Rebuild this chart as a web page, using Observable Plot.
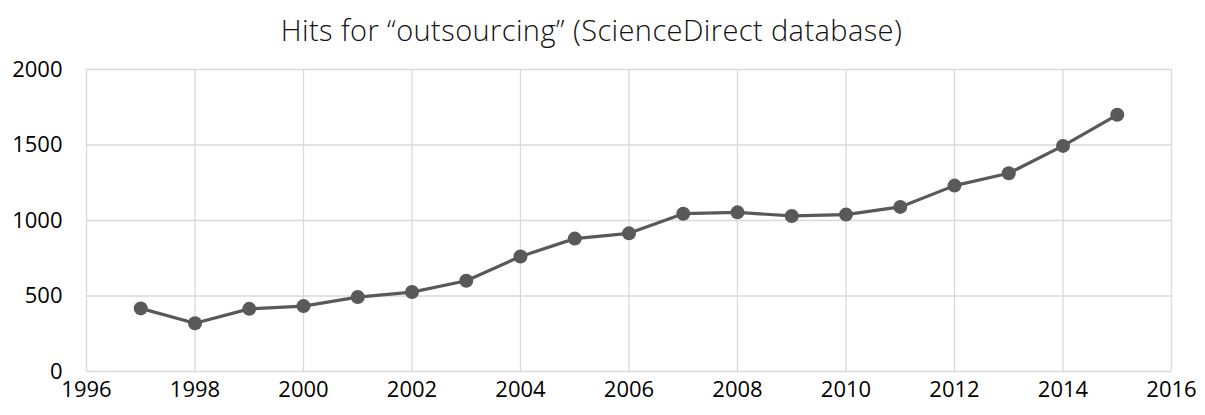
<!DOCTYPE html>
<html>
<head>
<meta charset="utf-8">
<script src="https://cdn.jsdelivr.net/npm/d3@7"></script>
<script src="https://cdn.jsdelivr.net/npm/@observablehq/plot@0.6"></script>
<style>
  html, body { margin: 0; padding: 0; background: #fff; }
  #title { height: 52px; line-height: 60px; text-align: center; font-family: "Open Sans", sans-serif; font-weight: 300; font-size: 29px; letter-spacing: 0.4px; color: #111; padding-right: 22px; white-space: nowrap; }
</style>
</head>
<body>
<div id="title">Hits for “outsourcing” (ScienceDirect database)</div>
<div id="chart"></div>
<script>
const years = [1997, 1998, 1999, 2000, 2001, 2002, 2003, 2004, 2005, 2006, 2007, 2008, 2009, 2010, 2011, 2012, 2013, 2014, 2015];
const hits  = [418, 320, 415, 433, 493, 526, 601, 762, 880, 915, 1045, 1054, 1030, 1039, 1090, 1231, 1313, 1494, 1700];
const xTicks = [1996, 1998, 2000, 2002, 2004, 2006, 2008, 2010, 2012, 2014, 2016];
const yTicks = [0, 500, 1000, 1500, 2000];

const data = years.map((y, i) => ({year: y, hits: hits[i]}));

const chart = Plot.plot({
  width: 1205,
  height: 363,
  marginLeft: 86,
  marginRight: 34,
  marginTop: 17,
  marginBottom: 44,
  style: { fontFamily: "'Open Sans', sans-serif", fontSize: "22px", color: "#000", background: "#fff" },
  x: { domain: [1996, 2016], label: null },
  y: { domain: [0, 2000], label: null },
  marks: [
    Plot.gridX(xTicks, { stroke: "#d9d9d9", strokeOpacity: 1, strokeWidth: 1.3 }),
    Plot.gridY(yTicks, { stroke: "#d9d9d9", strokeOpacity: 1, strokeWidth: 1.3 }),
    Plot.axisX({ ticks: xTicks, tickFormat: d => String(d), tickSize: 0, tickPadding: 10, label: null, fontSize: 22 }),
    Plot.axisY({ ticks: yTicks, tickFormat: d => String(d), tickSize: 0, tickPadding: 24, label: null, fontSize: 22 }),
    Plot.line(data, { x: "year", y: "hits", stroke: "#595959", strokeWidth: 3.2 }),
    Plot.dot(data, { x: "year", y: "hits", r: 7, fill: "#595959", stroke: "none" })
  ]
});
document.getElementById("chart").appendChild(chart);
</script>
</body>
</html>
